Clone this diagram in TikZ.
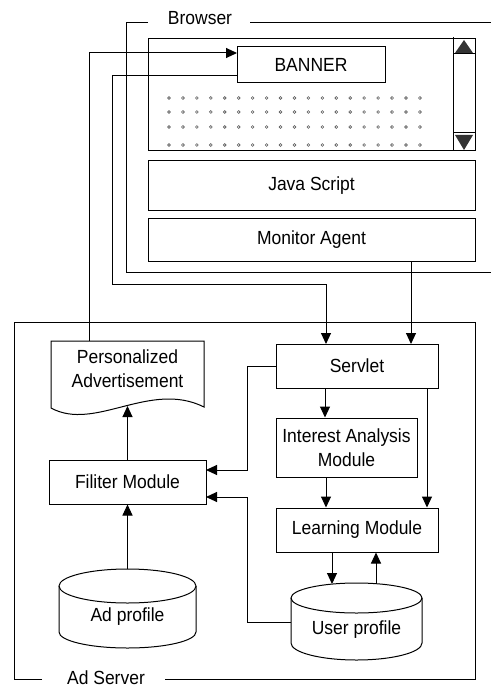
\documentclass[tikz,border=0pt]{standalone}
\usepackage{fontspec}
\setmainfont{Liberation Sans}[FakeStretch=0.92]
\usetikzlibrary{arrows.meta}
\begin{document}
\begin{tikzpicture}[x=1pt,y=-1pt,line width=1pt,
  every node/.style={font=\fontsize{19}{24}\selectfont},
  box/.style={draw,inner sep=0pt,align=center},
  arr/.style={-{Triangle[length=11pt,width=10pt]}},
  lbl/.style={inner sep=0pt,anchor=base}]
\useasboundingbox (0,0) rectangle (491,687);
% Browser frame
\draw (148,23) -| (126,272) -- (491,272);
\draw (250,23) -- (491,23);
\node[lbl] (browser) at (200,25) {Browser};
% window
\node[box,minimum width=327pt,minimum height=112pt] (win) at (311.5,95) {};
\draw (453,37) -- (453,151);
\draw (453,54) -- (475,54);
\draw (453,133) -- (475,133);
\fill[black!80] (455,53) -- (464,40) -- (473,53) -- cycle;
\fill[black!80] (455,135) -- (464,150) -- (473,135) -- cycle;
\foreach \i in {0,...,18}
  \foreach \yy in {98,112,127,145}
    \draw[black!65,line width=0.6pt] (169+13.94*\i,\yy) circle (1.4pt);
\node[box,fill=white,minimum width=148pt,minimum height=36pt] (banner) at (311,65) {BANNER};
\node[box,minimum width=327pt,minimum height=49pt] (java) at (311.5,185.5) {Java Script};
\node[box,minimum width=327pt,minimum height=43pt] (monitor) at (311.5,239.5) {Monitor Agent};
% Ad server frame
\draw (42,679) -| (14,322) -| (475,679) -- (165,679);
\node[lbl] (adserver) at (106,684) {Ad Server};
% Personalized Advertisement (document)
\draw (51,341) -- (204,341) -- (204,407) .. controls (150,380) and (95,432) .. (51,408) -- cycle;
\node[align=center] (pa) at (127.5,369) {Personalized\\Advertisement};
\coordinate (patop) at (89,341);
\coordinate (pabot) at (127.5,406);
% boxes
\node[box,minimum width=162pt,minimum height=44pt] (servlet) at (357,366) {Servlet};
\node[box,minimum width=141pt,minimum height=59pt] (interest) at (346.5,447.5) {Interest Analysis\\Module};
\node[box,minimum width=157pt,minimum height=44pt] (filter) at (127.5,482) {Filiter Module};
\node[box,minimum width=162pt,minimum height=44pt] (learning) at (357,530) {Learning Module};
% Ad profile cylinder
\draw (59,586) -- (59,632) arc[start angle=180,end angle=360,x radius=68.5pt,y radius=16pt] -- (196,586);
\draw (127.5,586) ellipse [x radius=68.5pt,y radius=17pt];
\node (adp) at (127.5,617) {Ad profile};
\coordinate (adtop) at (127.5,569);
% User profile cylinder
\draw (291,598) -- (291,643) arc[start angle=180,end angle=360,x radius=65.5pt,y radius=17pt] -- (422,598);
\draw (356.5,598) ellipse [x radius=65.5pt,y radius=15pt];
\node (upf) at (356.5,630) {User profile};
\coordinate (uptopL) at (332,584);
\coordinate (uptopR) at (376,584);
\coordinate (upleft) at (291,622);
% connector coordinates
\coordinate (bin) at (237,53);
\coordinate (bout) at (237,76);
\coordinate (bend1) at (112,284);
\coordinate (sin1) at (326,344);
\coordinate (mout) at (411,261);
\coordinate (sin2) at (411,344);
\coordinate (fin1) at (206,470);
\coordinate (fin2) at (206,497);
% connectors
\draw[arr] (patop) |- (bin);
\draw[arr] (bout) -| (bend1) -| (sin1);
\draw[arr] (mout) -- (sin2);
\draw[arr] (servlet.west) -| (247,470) -- (fin1);
\draw[arr] (servlet.south -| 325,0) -- (interest.north -| 325,0);
\draw[arr] (servlet.south -| 427,0) -- (learning.north -| 427,0);
\draw[arr] (interest.south -| 326,0) -- (learning.north -| 326,0);
\draw[arr] (learning.south -| uptopL) -- (uptopL);
\draw[arr] (uptopR) -- (learning.south -| uptopR);
\draw[arr] (upleft) -| (247,497) -- (fin2);
\draw[arr] (adtop) -- (filter.south);
\draw[arr] (filter.north) -- (pabot);
\end{tikzpicture}
\end{document}
